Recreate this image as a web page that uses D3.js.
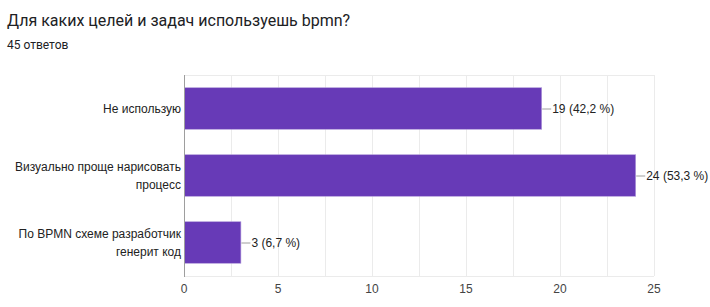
<!DOCTYPE html>
<html>
<head>
<meta charset="utf-8">
<script src="https://cdn.jsdelivr.net/npm/d3@7"></script>
<style>
  body { margin: 0; background: #fff; font-family: Arial, "Liberation Sans", sans-serif; }
  svg { display: block; }
</style>
</head>
<body>
<svg id="chart" width="710" height="307"></svg>
<script>
var title = 'Для каких целей и задач используешь bpmn?';
var subtitle = '45 ответов';
var categories = [
  ['Не использую'],
  ['Визуально проще нарисовать', 'процесс'],
  ['По BPMN схеме разработчик', 'генерит код']
];
var counts = [19, 24, 3];
var percents = ['42,2', '53,3', '6,7'];
var xTicks = [0, 5, 10, 15, 20, 25];
var xGrid = [2.5, 5, 7.5, 10, 12.5, 15, 17.5, 20, 22.5, 25];

var svg = d3.select('#chart');
var margin = {top: 75, right: 56, bottom: 31, left: 184};
var width = 710 - margin.left - margin.right,
    height = 307 - margin.top - margin.bottom;

svg.append('text')
  .attr('x', 7)
  .attr('y', 26)
  .attr('fill', '#202124')
  .style('font-family', 'Roboto, Arial, sans-serif')
  .style('font-size', '16px')
  .text(title);

svg.append('text')
  .attr('x', 7)
  .attr('y', 49)
  .attr('fill', '#202124')
  .style('font-family', 'Roboto, Arial, sans-serif')
  .style('font-size', '12px')
  .text(subtitle);

var g = svg.append('g')
  .attr('transform', 'translate(' + margin.left + ',' + margin.top + ')');

var x = d3.scaleLinear().domain([0, 25]).range([0, width]);
var y = d3.scaleBand().domain(d3.range(counts.length)).range([0, height])
  .paddingInner(0.38).paddingOuter(0.19);

// gridlines
g.selectAll('.grid')
  .data(xGrid)
  .enter().append('line')
    .attr('x1', function(d) { return Math.round(x(d)) + 0.5; })
    .attr('x2', function(d) { return Math.round(x(d)) + 0.5; })
    .attr('y1', 0)
    .attr('y2', height)
    .attr('stroke', '#ebebeb');

[0, height].forEach(function(yy) {
  g.append('line')
    .attr('x1', 0).attr('x2', width)
    .attr('y1', yy + 0.5).attr('y2', yy + 0.5)
    .attr('stroke', '#ebebeb');
});

// bars
g.selectAll('.bar')
  .data(counts)
  .enter().append('rect')
    .attr('x', 0.5)
    .attr('y', function(d, i) { return y(i); })
    .attr('width', function(d) { return x(d); })
    .attr('height', y.bandwidth())
    .attr('fill', '#673ab7')
    .attr('stroke', '#b39ddb')
    .attr('stroke-width', 0.6);

// value labels with leader lines
var labels = g.selectAll('.val')
  .data(counts)
  .enter().append('g')
    .attr('transform', function(d, i) {
      return 'translate(' + x(d) + ',' + (y(i) + y.bandwidth() / 2) + ')';
    });

labels.append('line')
  .attr('x1', 1).attr('x2', 10)
  .attr('y1', 0.5).attr('y2', 0.5)
  .attr('stroke', '#9e9e9e');

labels.append('text')
  .attr('x', 11)
  .attr('dy', '0.35em')
  .attr('fill', '#222')
  .style('font-size', '12px')
  .text(function(d, i) { return d + ' (' + percents[i] + ' %)'; });

// category labels
var cats = g.selectAll('.cat')
  .data(categories)
  .enter().append('text')
    .attr('text-anchor', 'end')
    .attr('fill', '#222')
    .style('font-size', '12px')
    .attr('y', function(d, i) { return y(i) + y.bandwidth() / 2; });

cats.each(function(lines) {
  var t = d3.select(this);
  var start = -(lines.length - 1) * 0.75;
  lines.forEach(function(line, k) {
    t.append('tspan')
      .attr('x', -3)
      .attr('dy', k === 0 ? (start + 0.35) + 'em' : '1.5em')
      .text(line);
  });
});

// vertical axis line
g.append('line')
  .attr('x1', 0.5).attr('x2', 0.5)
  .attr('y1', 0).attr('y2', height + 1)
  .attr('stroke', '#9e9e9e');

// x tick labels
g.selectAll('.tick')
  .data(xTicks)
  .enter().append('text')
    .attr('x', function(d) { return x(d); })
    .attr('y', height + 17)
    .attr('text-anchor', 'middle')
    .attr('fill', '#444')
    .style('font-size', '12px')
    .text(function(d) { return d; });
</script>
</body>
</html>
